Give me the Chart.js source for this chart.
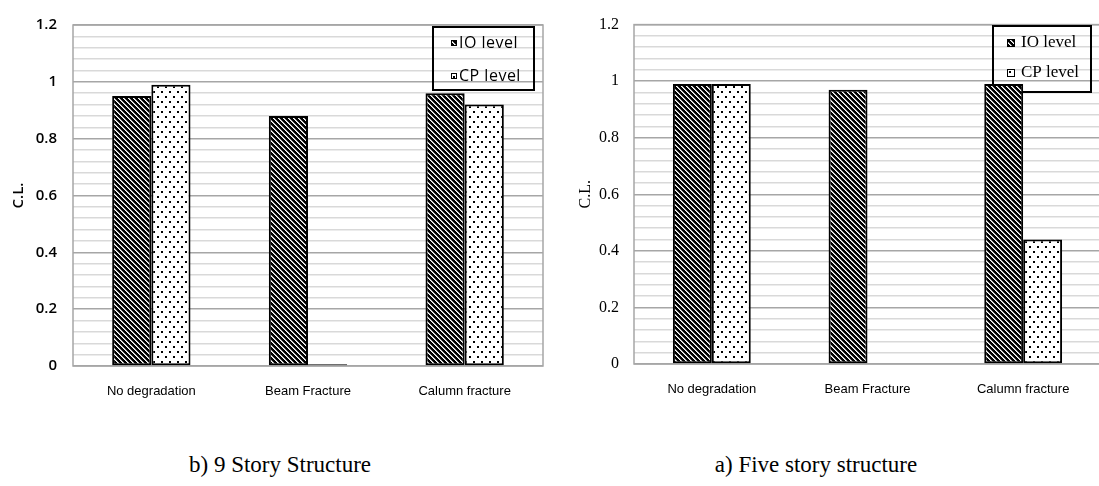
<!DOCTYPE html>
<html>
<head>
<meta charset="utf-8">
<script src="https://cdn.jsdelivr.net/npm/chart.js@4.4.1/dist/chart.umd.min.js"></script>
<style>
html,body{margin:0;padding:0;background:#fff;width:1099px;height:486px;overflow:hidden;position:relative}
.box{position:absolute;top:0;height:420px}
#leftBox{left:0;width:549px}
#rightBox{left:560px;width:550px}
.cap{position:absolute;font-family:"Liberation Serif","Times New Roman",serif;font-size:23px;color:#000;white-space:nowrap;transform:translateX(-50%)}
</style>
</head>
<body>
<div class="box" id="leftBox"><canvas id="c1"></canvas></div>
<div class="box" id="rightBox"><canvas id="c2"></canvas></div>
<div class="cap" style="left:280px;top:452px">b) 9 Story Structure</div>
<div class="cap" style="left:816px;top:452px">a) Five story structure</div>
<script>
// data
const categories = ['No degradation', 'Beam Fracture', 'Calumn fracture'];
const seriesNames = ['IO level', 'CP level'];
const nineIO = [0.95, 0.88, 0.96];
const nineCP = [0.99, 0.006, 0.92];
const fiveIO = [0.99, 0.97, 0.99];
const fiveCP = [0.99, 0, 0.44];
const yLabels = ['0', '0.2', '0.4', '0.6', '0.8', '1', '1.2'];

// fill patterns
function hatch(){
    const n = 5, c = document.createElement('canvas'); c.width = c.height = n;
    const g = c.getContext('2d'), img = g.createImageData(n, n);
    for(let y=0;y<n;y++) for(let x=0;x<n;x++){
        const k = ((x-y)%n+n)%n, v = k===0 ? 255 : (k===1 ? 170 : 0), i = (y*n+x)*4;
        img.data[i]=img.data[i+1]=img.data[i+2]=v; img.data[i+3]=255;
    }
    g.putImageData(img, 0, 0);
    return g.createPattern(c, 'repeat');
}
function dots(){
    const c = document.createElement('canvas'); c.width = 8; c.height = 10;
    const g = c.getContext('2d');
    g.fillStyle = '#fff'; g.fillRect(0, 0, 8, 10);
    g.fillStyle = '#000'; g.fillRect(1, 1, 2, 2); g.fillRect(5, 6, 2, 2);
    return g.createPattern(c, 'repeat');
}
const ioFill = hatch(), cpFill = dots();

// plot frame + legend, drawn under the bars
const frameLegend = {
    id: 'frameLegend',
    beforeDatasetsDraw(chart, args, o){
        const {ctx, chartArea: a} = chart;
        ctx.save();
        ctx.strokeStyle = '#a6a6a6'; ctx.lineWidth = 1.5;
        ctx.strokeRect(a.left, a.top, a.right-a.left, a.bottom-a.top);
        const b = o.box;
        ctx.strokeStyle = '#000'; ctx.lineWidth = 2;
        ctx.strokeRect(b[0], b[1], b[2]-b[0], b[3]-b[1]);
        ctx.font = o.font; ctx.textBaseline = 'middle'; ctx.letterSpacing = o.spacing || '0px';
        chart.data.datasets.forEach((ds, i)=>{
            const y = o.rows[i], s = o.icon;
            ctx.fillStyle = ds.backgroundColor; ctx.fillRect(o.iconX, y-s/2, s, s);
            ctx.lineWidth = 1; ctx.strokeStyle = '#000'; ctx.strokeRect(o.iconX+0.5, y-s/2+0.5, s-1, s-1);
            ctx.fillStyle = '#000'; ctx.fillText(ds.label, o.textX, y);
        });
        ctx.restore();
    }
};

function makeChart(id, io, cp, o){
    return new Chart(document.getElementById(id), {
        type: 'bar',
        data: {labels: categories, datasets: [
            {label: seriesNames[0], data: io, backgroundColor: ioFill, borderColor: '#000', borderWidth: 2, borderSkipped: false},
            {label: seriesNames[1], data: cp, backgroundColor: cpFill, borderColor: '#000', borderWidth: 2, borderSkipped: false}
        ]},
        options: {
            responsive: true, maintainAspectRatio: false, animation: false,
            layout: {padding: {top: 17, right: o.padRight, bottom: 0, left: 0}},
            datasets: {bar: {categoryPercentage: 0.5, barPercentage: 1}},
            plugins: {legend: {display: false}, tooltip: {enabled: false}, frameLegend: o.legend},
            scales: {
                x: {
                    grid: {display: false}, border: {display: false},
                    ticks: {font: {family: '"Liberation Sans", Arial, sans-serif', size: 13}, color: '#000', padding: 10, maxRotation: 0},
                    afterFit: s=>{ s.height = o.xHeight; }
                },
                y: {
                    min: 0, max: 1.2,
                    ticks: {stepSize: 0.04, autoSkip: false, color: '#000', padding: o.tickPad, font: o.tickFont,
                        callback: (v, i)=> i%5===0 ? yLabels[i/5] : ''},
                    grid: {drawTicks: false, lineWidth: 1.5, color: c=> c.index%5===0 ? '#a6a6a6' : '#d9d9d9'},
                    border: {display: false},
                    title: {display: true, text: 'C.L.', color: '#000', font: o.tickFont, padding: {top: o.titlePad, bottom: 4}},
                    afterFit: s=>{ s.width = o.yWidth; }
                }
            }
        },
        plugins: [frameLegend]
    });
}

makeChart('c1', nineIO, nineCP, {
    padRight: 6, xHeight: 54, yWidth: 73, tickPad: 16, titlePad: 10,
    tickFont: {family: '"Open Sans", sans-serif', size: 15, weight: '600'},
    legend: {box: [433, 27, 534, 90], rows: [43, 76], iconX: 451, icon: 6, textX: 459,
        font: '16px "Open Sans", sans-serif', spacing: '0.5px'}
});
makeChart('c2', fiveIO, fiveCP, {
    padRight: 9, xHeight: 56, yWidth: 74, tickPad: 15, titlePad: 16,
    tickFont: {family: '"Liberation Serif", "Times New Roman", serif', size: 16},
    legend: {box: [433, 26, 531, 92], rows: [43, 73], iconX: 447, icon: 8, textX: 461,
        font: '17px "Liberation Serif", "Times New Roman", serif'}
});
</script>
</body>
</html>
